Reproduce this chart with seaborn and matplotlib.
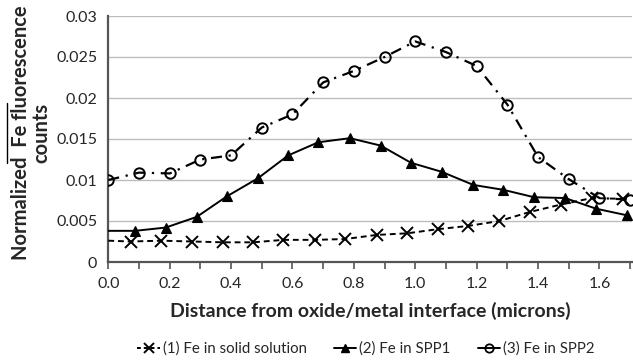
import matplotlib
matplotlib.use("Agg")
import matplotlib.pyplot as plt
from matplotlib.lines import Line2D
from matplotlib.ticker import MultipleLocator, FixedLocator, FixedFormatter
import seaborn as sns
import pandas as pd

# Fe in solid solution
s1_x = [0.0, 0.073, 0.172, 0.274, 0.375, 0.472, 0.570, 0.673, 0.771, 0.874,
        0.974, 1.073, 1.173, 1.274, 1.373, 1.474, 1.575, 1.678]
s1_y = [0.0026, 0.0025, 0.0026, 0.0025, 0.0024, 0.0024, 0.0027, 0.0027, 0.0028,
        0.0033, 0.0035, 0.0040, 0.0044, 0.0050, 0.0061, 0.0070, 0.0078, 0.0077]

# Fe in SPP1
s2_x = [0.0, 0.087, 0.187, 0.288, 0.386, 0.487, 0.586, 0.684, 0.787, 0.887,
        0.986, 1.086, 1.189, 1.287, 1.387, 1.488, 1.589, 1.689]
s2_y = [0.0038, 0.0038, 0.0042, 0.0055, 0.0080, 0.0102, 0.0130, 0.0146, 0.0151,
        0.0142, 0.0121, 0.0110, 0.0094, 0.0088, 0.0079, 0.0078, 0.0065, 0.0057]

# Fe in SPP2
s3_x = [0.0, 0.1, 0.2, 0.3, 0.4, 0.5, 0.6, 0.7, 0.8, 0.9,
        1.0, 1.1, 1.2, 1.3, 1.4, 1.5, 1.6, 1.7]
s3_y = [0.0100, 0.0109, 0.0108, 0.0125, 0.0130, 0.0164, 0.0180, 0.0219, 0.0233,
        0.0250, 0.0269, 0.0256, 0.0239, 0.0192, 0.0128, 0.0101, 0.0078, 0.0076]

series_labels = ["(1) Fe in solid solution", "(2) Fe in SPP1", "(3) Fe in SPP2"]
x_tick_values = [0.0, 0.2, 0.4, 0.6, 0.8, 1.0, 1.2, 1.4, 1.6]
x_tick_labels = ["0.0", "0.2", "0.4", "0.6", "0.8", "1.0", "1.2", "1.4", "1.6"]
y_tick_values = [0, 0.005, 0.01, 0.015, 0.02, 0.025, 0.03]
y_tick_labels = ["0", "0.005", "0.01", "0.015", "0.02", "0.025", "0.03"]
x_label = "Distance from oxide/metal interface (microns)"
y_label = "Normalized  Fe fluorescence\ncounts"

sns.set_theme(style="white")
plt.rcParams["font.family"] = ["Lato", "DejaVu Sans"]

fig = plt.figure(figsize=(6.33, 3.6), dpi=100)
ax = fig.add_axes([108.3 / 633, 1 - 262 / 360, (631.7 - 108.3) / 633, (262 - 16) / 360])

df1 = pd.DataFrame({"x": s1_x, "y": s1_y})
df2 = pd.DataFrame({"x": s2_x, "y": s2_y})
df3 = pd.DataFrame({"x": s3_x, "y": s3_y})

sns.lineplot(data=df1, x="x", y="y", ax=ax, color="black", linestyle=(0, (3, 2)),
             linewidth=1.4, marker="x", markersize=8.5, markeredgewidth=1.4,
             markeredgecolor="black", markerfacecolor="black",
             markevery=list(range(1, len(s1_x))), sort=False, zorder=3)
sns.lineplot(data=df2, x="x", y="y", ax=ax, color="black", linestyle="-",
             linewidth=1.4, marker="^", markersize=7.5, markeredgewidth=0.8,
             markeredgecolor="black", markerfacecolor="black",
             markevery=list(range(1, len(s2_x))), sort=False, zorder=3)
sns.lineplot(data=df3, x="x", y="y", ax=ax, color="black", linestyle=(0, (5, 3, 1, 3)),
             linewidth=1.6, marker="o", markersize=7.5, markerfacecolor="none",
             markeredgecolor="black", markeredgewidth=1.4, sort=False, zorder=3)

ax.set_xlim(0, 1.705)
ax.set_ylim(0, 0.03)
ax.xaxis.set_major_locator(FixedLocator(x_tick_values))
ax.xaxis.set_major_formatter(FixedFormatter(x_tick_labels))
ax.xaxis.set_minor_locator(MultipleLocator(0.1))
ax.yaxis.set_major_locator(FixedLocator(y_tick_values))
ax.yaxis.set_major_formatter(FixedFormatter(y_tick_labels))

ax.grid(axis="y", color="#bdbdbd", linewidth=1.0)
ax.set_axisbelow(True)
for side in ["top", "right"]:
    ax.spines[side].set_visible(False)
for side in ["left", "bottom"]:
    ax.spines[side].set_color("#555555")
    ax.spines[side].set_linewidth(1.6)

ax.tick_params(axis="x", which="both", direction="out", length=5, width=1.2,
               color="#555555", bottom=True, labelsize=11.5, pad=6)
ax.tick_params(axis="y", which="both", length=0, labelsize=11.5, pad=8)
ax.set_xlabel(x_label, fontsize=14, fontweight="bold", labelpad=8)
ax.set_ylabel("")

fig.text(31 / 633, 1 - 133 / 360, y_label, rotation=90, ha="center", va="center",
         multialignment="center", fontsize=14.5, fontweight="bold", linespacing=1.0)
fig.add_artist(Line2D([7 / 633, 7 / 633], [1 - 103 / 360, 1 - 163 / 360],
                      color="black", linewidth=1.0))

handles = [
    Line2D([], [], color="black", linestyle=(0, (2, 1.5)), linewidth=1.4,
           marker="x", markersize=7, markeredgewidth=1.4),
    Line2D([], [], color="black", linestyle="-", linewidth=1.4,
           marker="^", markersize=6),
    Line2D([], [], color="black", linestyle="-", linewidth=1.4,
           marker="o", markersize=6, markerfacecolor="none", markeredgewidth=1.3),
]
fig.legend(handles, series_labels, loc="center", bbox_to_anchor=(366 / 633, 1 - 349 / 360),
           ncol=3, frameon=False, fontsize=10.8, handlelength=1.5, handletextpad=0.2,
           columnspacing=1.8, borderaxespad=0)

fig.savefig("out.png", dpi=100)
